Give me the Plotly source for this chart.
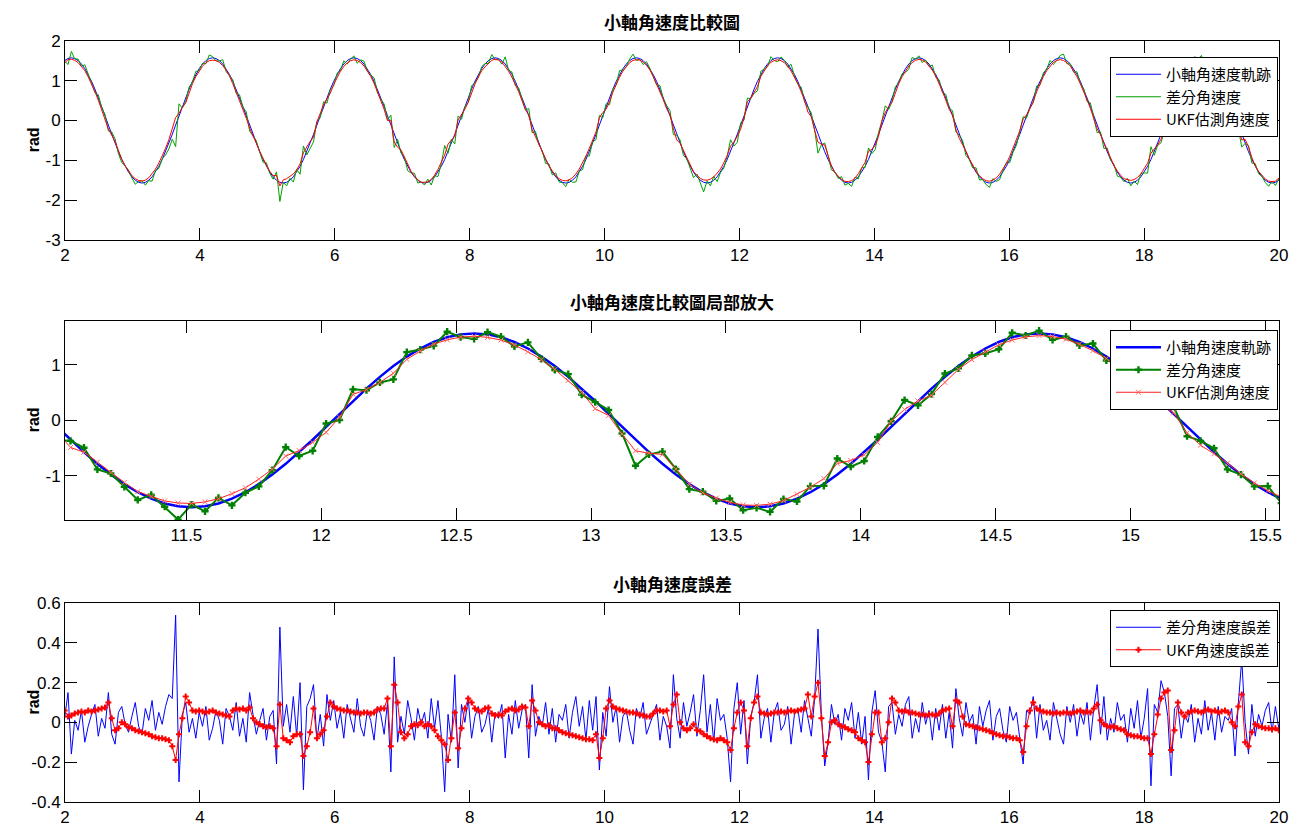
import numpy as np
import plotly.graph_objects as go

# ---------------- data ----------------
# sample grid: first sample at T0, spacing DT seconds
T0 = 1.99466
DT = 0.0498666

# true minor-axis angular rate (rad/s), one value per sample
true_rate = [
 1.501, 1.553,
 1.571, 1.553, 1.501, 1.415, 1.298, 1.152, 0.980, 0.785, 0.574, 0.350, 0.117, -0.117, -0.350, -0.574, -0.785, -0.980, -1.152, -1.298, -1.415, -1.501, -1.553, -1.571, -1.553, -1.501, -1.415, -1.298, -1.152, -0.980, -0.785, -0.574, -0.350, -0.117, 0.117, 0.350, 0.574, 0.785, 0.980, 1.152, 1.298, 1.415, 1.501, 1.553,
 1.571, 1.553, 1.501, 1.415, 1.298, 1.152, 0.980, 0.785, 0.574, 0.350, 0.117, -0.117, -0.350, -0.574, -0.785, -0.980, -1.152, -1.298, -1.415, -1.501, -1.553, -1.571, -1.553, -1.501, -1.415, -1.298, -1.152, -0.980, -0.785, -0.574, -0.350, -0.117, 0.117, 0.350, 0.574, 0.785, 0.980, 1.152, 1.298, 1.415, 1.501, 1.553,
 1.571, 1.553, 1.501, 1.415, 1.298, 1.152, 0.980, 0.785, 0.574, 0.350, 0.117, -0.117, -0.350, -0.574, -0.785, -0.980, -1.152, -1.298, -1.415, -1.501, -1.553, -1.571, -1.553, -1.501, -1.415, -1.298, -1.152, -0.980, -0.785, -0.574, -0.350, -0.117, 0.117, 0.350, 0.574, 0.785, 0.980, 1.152, 1.298, 1.415, 1.501, 1.553,
 1.571, 1.553, 1.501, 1.415, 1.298, 1.152, 0.980, 0.785, 0.574, 0.350, 0.117, -0.117, -0.350, -0.574, -0.785, -0.980, -1.152, -1.298, -1.415, -1.501, -1.553, -1.571, -1.553, -1.501, -1.415, -1.298, -1.152, -0.980, -0.785, -0.574, -0.350, -0.117, 0.117, 0.350, 0.574, 0.785, 0.980, 1.152, 1.298, 1.415, 1.501, 1.553,
 1.571, 1.553, 1.501, 1.415, 1.298, 1.152, 0.980, 0.785, 0.574, 0.350, 0.117, -0.117, -0.350, -0.574, -0.785, -0.980, -1.152, -1.298, -1.415, -1.501, -1.553, -1.571, -1.553, -1.501, -1.415, -1.298, -1.152, -0.980, -0.785, -0.574, -0.350, -0.117, 0.117, 0.350, 0.574, 0.785, 0.980, 1.152, 1.298, 1.415, 1.501, 1.553,
 1.571, 1.553, 1.501, 1.415, 1.298, 1.152, 0.980, 0.785, 0.574, 0.350, 0.117, -0.117, -0.350, -0.574, -0.785, -0.980, -1.152, -1.298, -1.415, -1.501, -1.553, -1.571, -1.553, -1.501, -1.415, -1.298, -1.152, -0.980, -0.785, -0.574, -0.350, -0.117, 0.117, 0.350, 0.574, 0.785, 0.980, 1.152, 1.298, 1.415, 1.501, 1.553,
 1.571, 1.553, 1.501, 1.415, 1.298, 1.152, 0.980, 0.785, 0.574, 0.350, 0.117, -0.117, -0.350, -0.574, -0.785, -0.980, -1.152, -1.298, -1.415, -1.501, -1.553, -1.571, -1.553, -1.501, -1.415, -1.298, -1.152, -0.980, -0.785, -0.574, -0.350, -0.117, 0.117, 0.350, 0.574, 0.785, 0.980, 1.152, 1.298, 1.415, 1.501, 1.553,
 1.571, 1.553, 1.501, 1.415, 1.298, 1.152, 0.980, 0.785, 0.574, 0.350, 0.117, -0.117, -0.350, -0.574, -0.785, -0.980, -1.152, -1.298, -1.415, -1.501, -1.553, -1.571, -1.553, -1.501, -1.415, -1.298, -1.152, -0.980, -0.785, -0.574, -0.350, -0.117, 0.117, 0.350, 0.574, 0.785, 0.980, 1.152, 1.298, 1.415, 1.501, 1.553,
 1.571, 1.553, 1.501, 1.415, 1.298, 1.152, 0.980, 0.785, 0.574, 0.350, 0.117, -0.117, -0.350, -0.574, -0.785, -0.980, -1.152, -1.298, -1.415, -1.501, -1.553, -1.571, -1.553, -1.501, -1.415,
]

# error of the differentiated rate (true - diff), rad/s
diff_err = [
 0.02, 0.15, -0.16, 0.01, -0.04, 0.06, -0.10, -0.02, 0.04, 0.09, -0.07, 0.02, -0.03, 0.15, -0.06, -0.11, 0.05, 0.08, -0.01, -0.05,
 0.03, 0.10, -0.02, -0.06, 0.07, 0.01, 0.11, -0.04, 0.05, -0.01, 0.08, 0.14, 0.12, 0.54, -0.30, 0.04, 0.10, -0.05, 0.02, -0.08,
 0.05, -0.02, 0.08, -0.09, -0.03, 0.06, 0.01, -0.11, 0.07, 0.03, -0.04, 0.10, -0.07, 0.02, -0.10, 0.15, 0.04, -0.06, 0.01, 0.07,
 -0.09, 0.03, 0.06, -0.21, 0.48, -0.02, 0.09, -0.05, 0.13, -0.07, 0.20, -0.34, 0.08, 0.12, 0.19, -0.09, 0.04, -0.12, 0.14, 0.01,
 0.11, -0.03, 0.05, -0.08, 0.09, 0.02, -0.05, 0.12, -0.02, -0.07, 0.06, 0.01, -0.09, 0.08, 0.04, -0.06, 0.10, -0.25, 0.33, -0.10,
 0.03, -0.06, 0.11, 0.02, -0.09, 0.07, -0.01, 0.05, -0.08, 0.12, -0.03, 0.11, -0.07, -0.35, 0.04, -0.10, 0.24, -0.23, 0.09, 0.00,
 0.12, -0.08, 0.03, 0.08, -0.05, -0.01, 0.07, -0.10, 0.05, 0.02, 0.09, -0.18, 0.04, -0.06, 0.11, -0.03, 0.06, 0.09, -0.18, 0.19,
 -0.07, 0.03, -0.02, 0.10, -0.06, 0.07, -0.10, 0.04, 0.01, 0.09, -0.08, 0.05, 0.13, -0.02, 0.08, -0.09, 0.11, -0.04, 0.13, -0.24,
 0.05, -0.07, 0.18, 0.00, 0.08, -0.10, 0.03, 0.06, -0.04, -0.11, 0.07, 0.02, 0.10, -0.06, -0.01, 0.05, 0.09, -0.09, 0.03, -0.02,
 -0.13, 0.24, 0.02, -0.08, 0.10, -0.02, 0.05, 0.14, -0.07, 0.06, 0.24, -0.05, 0.09, -0.10, 0.12, 0.01, 0.04, -0.08, -0.30, 0.07,
 0.20, -0.06, 0.11, -0.21, 0.03, 0.10, 0.24, -0.08, 0.02, 0.07, -0.10, 0.05, 0.10, -0.04, -0.01, 0.08, -0.11, 0.04, 0.07, -0.05,
 0.11, 0.02, -0.07, 0.12, 0.47, 0.04, -0.22, -0.10, 0.09, -0.01, 0.04, -0.09, 0.07, 0.01, 0.10, -0.08, 0.05, -0.11, 0.03, -0.29,
 0.05, 0.16, -0.05, -0.10, -0.25, 0.08, 0.10, -0.06, 0.04, -0.02, 0.09, 0.13, -0.08, 0.02, -0.05, 0.10, -0.01, 0.06, -0.09, 0.07,
 -0.04, 0.09, -0.08, 0.05, -0.13, 0.17, 0.02, -0.07, 0.10, 0.00, 0.04, -0.11, 0.08, -0.02, 0.06, 0.11, -0.09, 0.03, 0.07, -0.04,
 -0.10, 0.08, 0.01, 0.05, -0.08, -0.21, 0.06, 0.04, 0.13, -0.08, 0.09, -0.04, 0.01, -0.09, 0.10, 0.02, -0.06, -0.11, 0.08, 0.00,
 0.09, -0.07, 0.05, -0.01, 0.10, -0.09, 0.07, 0.19, -0.06, 0.13, -0.09, 0.02, -0.05, 0.10, 0.01, 0.04, -0.10, 0.07, -0.03, 0.11,
 -0.08, 0.02, 0.17, -0.32, 0.09, 0.05, 0.21, 0.15, 0.03, -0.27, 0.07, 0.09, -0.08, 0.04, 0.00, 0.09, -0.10, 0.02, -0.06, 0.11,
 -0.04, 0.05, -0.09, 0.08, -0.05, 0.03, 0.01, 0.07, -0.17, 0.10, 0.32, 0.00, -0.16, 0.09, -0.07, 0.04, -0.02, 0.06, 0.10, -0.05,
 0.08, -0.03, 0.05,
]

# error of the UKF estimate (true - UKF), rad/s
ukf_err = [
 0.06, 0.03, 0.035, 0.045, 0.05, 0.055, 0.05, 0.06, 0.055, 0.06,
 0.065, 0.07, 0.075, 0.10, 0.02, -0.04, -0.03, 0.0, -0.01, -0.025,
 -0.03, -0.04, -0.045, -0.05, -0.055, -0.06, -0.07, -0.075, -0.08, -0.08,
 -0.085, -0.09, -0.12, -0.19, -0.06, 0.02, 0.13, 0.10, 0.06, 0.055,
 0.06, 0.055, 0.05, 0.055, 0.06, 0.05, 0.045, 0.04, 0.035, 0.03,
 0.06, 0.07, 0.065, 0.07, 0.06, 0.075, 0.02, 0.0, -0.01, -0.02,
 -0.025, -0.02, -0.03, -0.12, 0.09, -0.08, -0.09, -0.10, -0.07, -0.06,
 -0.06, -0.17, -0.12, -0.05, 0.07, -0.08, -0.06, -0.04, 0.03, 0.10,
 0.08, 0.07, 0.065, 0.06, 0.06, 0.055, 0.05, 0.05, 0.045, 0.05,
 0.05, 0.045, 0.05, 0.065, 0.07, 0.07, 0.12, -0.12, 0.19, 0.10,
 -0.05, -0.08, -0.06, -0.02, -0.01, -0.015, 0.0, -0.02, -0.01, -0.02,
 -0.04, -0.07, -0.09, -0.11, -0.19, -0.08, 0.05, -0.13, -0.03, 0.07,
 0.12, 0.10, 0.07, 0.06, 0.055, 0.07, 0.075, 0.045, 0.035, 0.04,
 0.035, 0.055, 0.065, 0.07, 0.06, 0.065, 0.08, 0.075, -0.02, 0.11,
 0.06, 0.0, -0.01, -0.02, -0.015, -0.03, -0.03, -0.04, -0.05, -0.055,
 -0.06, -0.065, -0.07, -0.075, -0.08, -0.085, -0.085, -0.09, -0.06, -0.18,
 -0.08, 0.07, 0.11, 0.08, 0.07, 0.065, 0.06, 0.055, 0.05, 0.05,
 0.045, 0.04, 0.035, 0.03, 0.03, 0.045, 0.06, 0.06, 0.055, 0.06,
 -0.02, 0.09, 0.14, 0.0, -0.03, -0.04, -0.03, -0.01, -0.04, -0.045,
 -0.06, -0.07, -0.08, -0.085, -0.09, -0.08, -0.09, -0.10, -0.14, -0.03,
 0.05, 0.10, 0.06, -0.12, 0.02, 0.10, 0.13, 0.05, 0.045, 0.04,
 0.045, 0.05, 0.05, 0.055, 0.05, 0.055, 0.06, 0.055, 0.06, 0.065,
 0.07, 0.14, 0.03, 0.13, 0.20, 0.02, -0.17, -0.10, 0.0, 0.01,
 -0.01, -0.02, -0.025, -0.035, -0.04, -0.05, -0.08, -0.09, -0.10, -0.20,
 -0.06, 0.05, 0.05, -0.10, -0.08, 0.0, 0.12, 0.10, 0.06, 0.055,
 0.06, 0.05, 0.05, 0.045, 0.04, 0.04, 0.035, 0.04, 0.04, 0.035,
 0.045, 0.06, 0.065, 0.07, -0.02, 0.11, 0.10, 0.03, -0.01, -0.015,
 -0.02, -0.025, -0.03, -0.035, -0.04, -0.045, -0.055, -0.06, -0.065, -0.07,
 -0.07, -0.075, -0.08, -0.08, -0.09, -0.15, -0.02, 0.06, 0.10, 0.07,
 0.06, 0.055, 0.05, 0.05, 0.045, 0.05, 0.045, 0.05, 0.05, 0.045,
 0.05, 0.055, 0.06, 0.05, 0.055, 0.05, 0.07, 0.09, 0.01, -0.01,
 -0.02, -0.025, -0.02, -0.03, -0.035, -0.04, -0.06, -0.065, -0.07, -0.07,
 -0.075, -0.08, -0.08, -0.16, -0.06, 0.04, 0.12, 0.15, 0.16, -0.14,
 -0.04, 0.10, 0.05, 0.03, 0.05, 0.055, 0.06, 0.055, 0.05, 0.06,
 0.065, 0.055, 0.06, 0.05, 0.055, 0.06, 0.05, 0.0, -0.02, 0.08,
 0.14, -0.10, -0.12, -0.05, -0.01, -0.02, -0.025, -0.03, -0.03, -0.035,
 -0.03, -0.04, -0.04,
]

# tick labels
x_ticks_full = [2, 4, 6, 8, 10, 12, 14, 16, 18, 20]
y_ticks_1 = [-3, -2, -1, 0, 1, 2]
x_ticks_zoom = [11.5, 12, 12.5, 13, 13.5, 14, 14.5, 15, 15.5]
y_ticks_2 = [-1, 0, 1]
y_ticks_3 = [-0.4, -0.2, 0, 0.2, 0.4, 0.6]

titles = ["小軸角速度比較圖", "小軸角速度比較圖局部放大", "小軸角速度誤差"]
names_top = ["小軸角速度軌跡", "差分角速度", "UKF估測角速度"]
names_err = ["差分角速度誤差", "UKF角速度誤差"]

# ---------------- derived series ----------------
n = min(len(true_rate), len(diff_err), len(ukf_err))
t = T0 + DT * np.arange(n)
true_a = np.array(true_rate[:n])
diff_rate = true_a - np.array(diff_err[:n])
ukf_rate = true_a - np.array(ukf_err[:n])
derr = np.array(diff_err[:n])
uerr = np.array(ukf_err[:n])

CJK = "Noto Sans CJK TC, Noto Sans CJK SC, sans-serif"
SANS = "Liberation Sans, Arial, sans-serif"
W, H = 1301, 827

def fmt(v):
    return "%g" % v

XD = [65 / W, 1279 / W]
D1 = [1 - 240 / H, 1 - 40.7 / H]
D2 = [1 - 520 / H, 1 - 320.7 / H]
D3 = [1 - 801.7 / H, 1 - 603.3 / H]

def axis(domain, rng, ticks, anchor):
    return dict(domain=domain, range=rng, anchor=anchor,
                tickmode="array", tickvals=ticks, ticktext=[fmt(v) for v in ticks],
                showline=True, linecolor="black", linewidth=1, mirror="ticks",
                ticks="inside", ticklen=12, tickcolor="black", tickwidth=1,
                showgrid=False, zeroline=False, automargin=False,
                tickfont=dict(family=SANS, size=17, color="black"))

fig = go.Figure()

# panel 1
fig.add_trace(go.Scatter(x=t, y=true_a, mode="lines", name=names_top[0],
                         line=dict(color="#0000ff", width=1), xaxis="x", yaxis="y", legend="legend"))
fig.add_trace(go.Scatter(x=t, y=diff_rate, mode="lines", name=names_top[1],
                         line=dict(color="#00a000", width=1), xaxis="x", yaxis="y", legend="legend"))
fig.add_trace(go.Scatter(x=t, y=ukf_rate, mode="lines", name=names_top[2],
                         line=dict(color="#ff0000", width=1), xaxis="x", yaxis="y", legend="legend"))

# panel 2 (zoom)
fig.add_trace(go.Scatter(x=t, y=true_a, mode="lines", name=names_top[0],
                         line=dict(color="#0000ff", width=2.5), xaxis="x2", yaxis="y2", legend="legend2"))
fig.add_trace(go.Scatter(x=t, y=diff_rate, mode="lines+markers", name=names_top[1],
                         line=dict(color="#008000", width=2),
                         marker=dict(symbol="cross", size=6, color="#008000"),
                         xaxis="x2", yaxis="y2", legend="legend2"))
fig.add_trace(go.Scatter(x=t, y=ukf_rate, mode="lines+markers", name=names_top[2],
                         line=dict(color="#ff2020", width=1),
                         marker=dict(symbol="x-thin-open", size=5, color="#ff6a6a", line=dict(width=1, color="#ff6a6a")),
                         xaxis="x2", yaxis="y2", legend="legend2"))

# panel 3 (errors)
fig.add_trace(go.Scatter(x=t, y=derr, mode="lines", name=names_err[0],
                         line=dict(color="#0000ff", width=1), xaxis="x3", yaxis="y3", legend="legend3"))
fig.add_trace(go.Scatter(x=t, y=uerr, mode="lines+markers", name=names_err[1],
                         line=dict(color="#ff0000", width=1),
                         marker=dict(symbol="cross", size=5, color="#ff0000"),
                         xaxis="x3", yaxis="y3", legend="legend3"))

def legend(ytop):
    return dict(x=1278 / W, y=ytop, xanchor="right", yanchor="top",
                bgcolor="white", bordercolor="black", borderwidth=1,
                font=dict(family=CJK, size=15, color="black"),
                tracegroupgap=0, itemwidth=45, itemclick=False, itemdoubleclick=False)

annotations = []
for txt, ypx in zip(titles, [21, 301, 583]):
    annotations.append(dict(text=txt, x=(XD[0] + XD[1]) / 2, y=1 - ypx / H, xref="paper", yref="paper",
                            xanchor="center", yanchor="middle", showarrow=False,
                            font=dict(family=CJK, size=17, color="black", weight="bold")))
for dom in (D1, D2, D3):
    annotations.append(dict(text="rad", x=33 / W, y=(dom[0] + dom[1]) / 2, xref="paper", yref="paper",
                            xanchor="center", yanchor="middle", showarrow=False, textangle=-90,
                            font=dict(family=SANS, size=16, color="black", weight="bold")))

fig.update_layout(
    width=W, height=H, template="none",
    margin=dict(l=0, r=0, t=0, b=0),
    paper_bgcolor="white", plot_bgcolor="white",
    showlegend=True,
    xaxis=axis(XD, [2, 20], x_ticks_full, "y"),
    yaxis=axis(D1, [-3, 2], y_ticks_1, "x"),
    xaxis2=axis(XD, [11.05, 15.55], x_ticks_zoom, "y2"),
    yaxis2=axis(D2, [-1.8, 1.8], y_ticks_2, "x2"),
    xaxis3=axis(XD, [2, 20], x_ticks_full, "y3"),
    yaxis3=axis(D3, [-0.4, 0.6], y_ticks_3, "x3"),
    legend=legend(1 - 57 / H),
    legend2=legend(1 - 330 / H),
    legend3=legend(1 - 610 / H),
    annotations=annotations,
)

fig.write_html("out.html")
